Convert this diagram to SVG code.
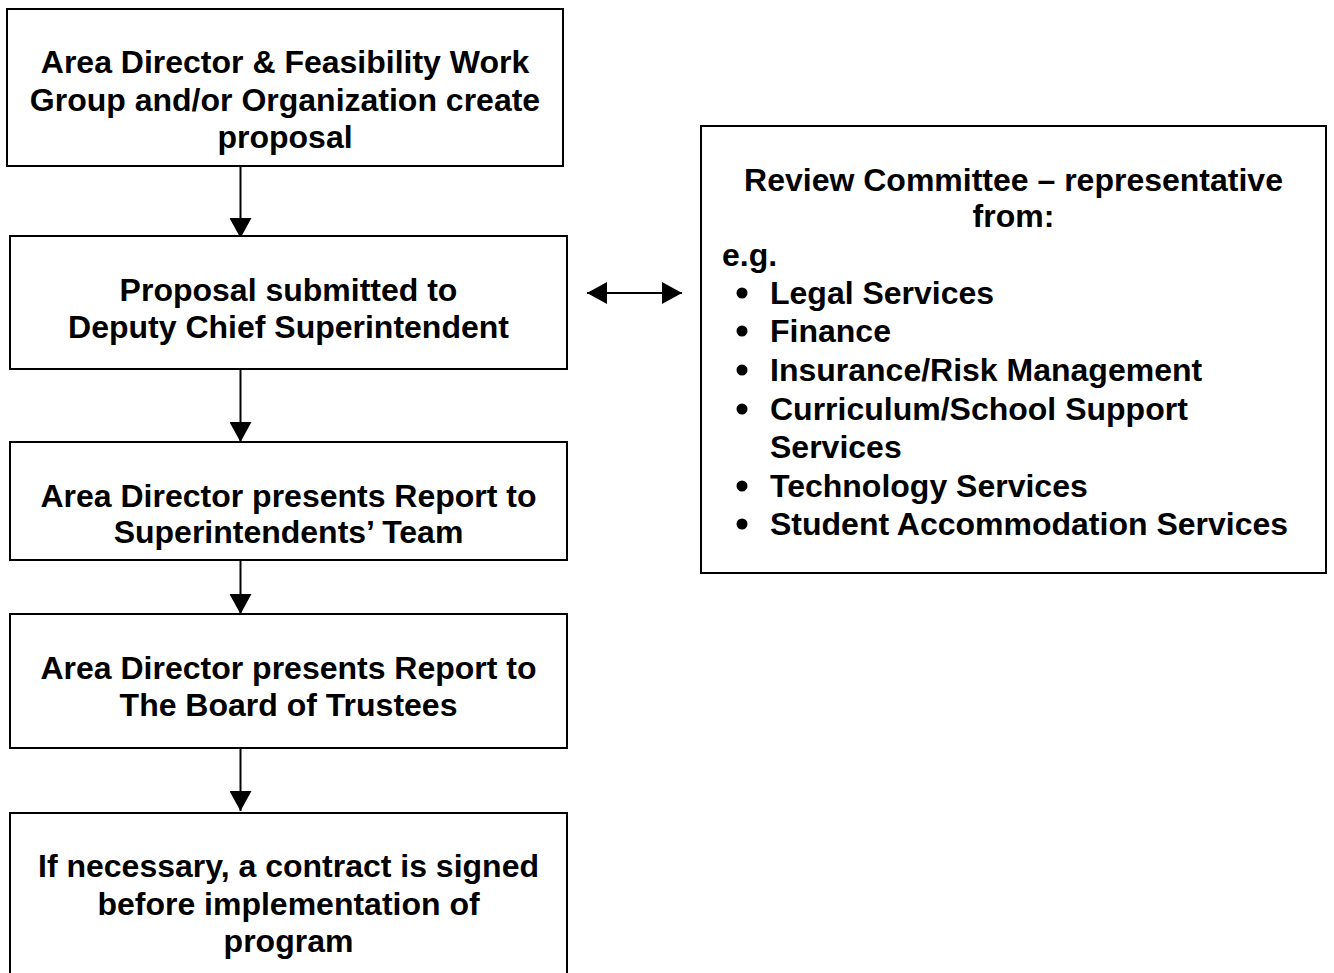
<svg xmlns="http://www.w3.org/2000/svg" width="1334" height="973" viewBox="0 0 1334 973">
<style>
.box{fill:#fff;stroke:#000;stroke-width:2}
.t{font-family:"Liberation Sans",Arial,sans-serif;font-weight:bold;font-size:32px;fill:#000}
.c{text-anchor:middle}
.ln{stroke:#000;stroke-width:2;fill:none}
</style>
<defs>
<marker id="ah" viewBox="0 0 20 22" refX="20" refY="11" markerWidth="20" markerHeight="22" markerUnits="userSpaceOnUse" orient="auto-start-reverse">
<path d="M0,0 L20,11 L0,22 Z" fill="#000"/>
</marker>
</defs>
<rect width="1334" height="973" fill="#fff"/>
<g id="connectors">
<line class="ln" x1="240.5" y1="166" x2="240.5" y2="238" marker-end="url(#ah)"/>
<line class="ln" x1="240.5" y1="369" x2="240.5" y2="442" marker-end="url(#ah)"/>
<line class="ln" x1="240.5" y1="560" x2="240.5" y2="614" marker-end="url(#ah)"/>
<line class="ln" x1="240.5" y1="748" x2="240.5" y2="811" marker-end="url(#ah)"/>
<line class="ln" x1="587" y1="293" x2="682" y2="293" marker-start="url(#ah)" marker-end="url(#ah)"/>
</g>
<g id="n1">
<rect class="box" x="7" y="9" width="556" height="157"/>
<text class="t c" x="285" y="73">Area Director &amp; Feasibility Work</text>
<text class="t c" x="285" y="111">Group and/or Organization create</text>
<text class="t c" x="285" y="148">proposal</text>
</g>
<g id="n2">
<rect class="box" x="10" y="236" width="557" height="133"/>
<text class="t c" x="288.5" y="301">Proposal submitted to</text>
<text class="t c" x="288.5" y="338">Deputy Chief Superintendent</text>
</g>
<g id="n3">
<rect class="box" x="10" y="442" width="557" height="118"/>
<text class="t c" x="288.5" y="507">Area Director presents Report to</text>
<text class="t c" x="288.5" y="543">Superintendents’ Team</text>
</g>
<g id="n4">
<rect class="box" x="10" y="614" width="557" height="134"/>
<text class="t c" x="288.5" y="679">Area Director presents Report to</text>
<text class="t c" x="288.5" y="716">The Board of Trustees</text>
</g>
<g id="n5">
<rect class="box" x="10" y="813" width="557" height="175"/>
<text class="t c" x="288.5" y="877">If necessary, a contract is signed</text>
<text class="t c" x="288.5" y="915">before implementation of</text>
<text class="t c" x="288.5" y="952">program</text>
</g>
<g id="review">
<rect class="box" x="701" y="126" width="625" height="447"/>
<text class="t c" x="1013.5" y="191">Review Committee – representative</text>
<text class="t c" x="1013.5" y="227">from:</text>
<text class="t" x="722" y="266">e.g.</text>
<g fill="#000">
<circle cx="742" cy="293" r="5.5"/>
<circle cx="742" cy="331" r="5.5"/>
<circle cx="742" cy="370" r="5.5"/>
<circle cx="742" cy="409" r="5.5"/>
<circle cx="742" cy="486" r="5.5"/>
<circle cx="742" cy="524" r="5.5"/>
</g>
<text class="t" x="770" y="304">Legal Services</text>
<text class="t" x="770" y="342">Finance</text>
<text class="t" x="770" y="381">Insurance/Risk Management</text>
<text class="t" x="770" y="420">Curriculum/School Support</text>
<text class="t" x="770" y="458">Services</text>
<text class="t" x="770" y="497">Technology Services</text>
<text class="t" x="770" y="535">Student Accommodation Services</text>
</g>
</svg>
